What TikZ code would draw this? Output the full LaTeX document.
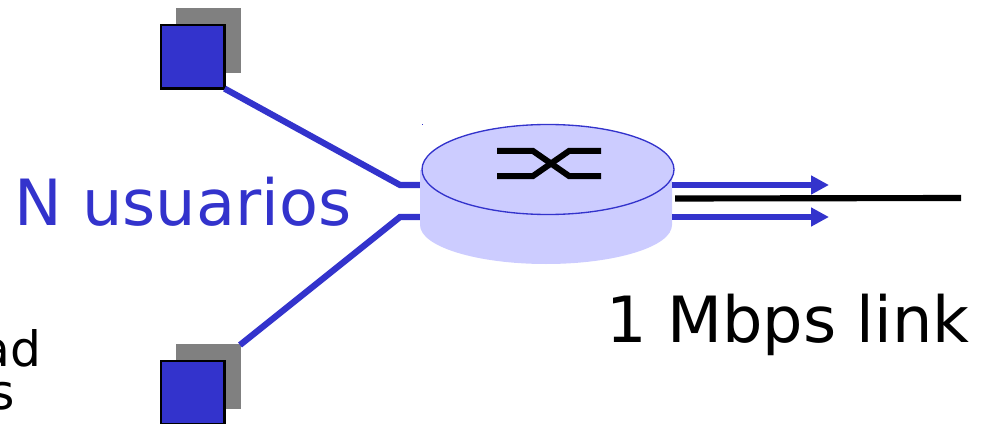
\documentclass[tikz,border=0pt]{standalone}
\usepackage{fontspec}
\setmainfont{DejaVu Sans}
\usetikzlibrary{arrows.meta,shapes.geometric}
\definecolor{ublue}{RGB}{51,51,204}
\definecolor{rlav}{RGB}{204,204,255}
\definecolor{ugray}{RGB}{128,128,128}
\tikzset{
  backsq/.style={fill=ugray,draw=none,minimum size=49pt,inner sep=0pt,outer sep=0pt,anchor=north west},
  frontsq/.style={fill=ublue,draw=black,line width=1.9pt,minimum width=47.7pt,minimum height=47.7pt,inner sep=0pt,outer sep=0pt,anchor=north west},
  wire/.style={draw=ublue,line width=4.7pt,line join=miter},
  flow/.style={draw=ublue,line width=4.7pt,-{Triangle[length=13.5pt,width=13.5pt]}},
  lbl/.style={inner sep=0pt,outer sep=0pt,anchor=base},
  cross/.style={draw=black,line width=4.5pt,line join=miter}
}
\begin{document}
\begin{tikzpicture}[x=0.75pt,y=-0.75pt]
\useasboundingbox (0,0) rectangle (984,424);
\clip (0,0) rectangle (984,424);
% users
\node[backsq] (g1) at (176,8) {};
\node[frontsq] (u1) at (161,25) {};
\node[backsq] (g2) at (176,344) {};
\node[frontsq] (u2) at (161,361) {};
% router
\coordinate (rl1) at (421,185);
\coordinate (rl2) at (421,217);
\coordinate (j1) at (400,185);
\coordinate (j2) at (400,217);
\coordinate (w2) at (240,345);
\draw[wire] (u1.south east) -- (j1) -- (rl1);
\draw[wire] (w2) -- (j2) -- (rl2);
\fill[rlav] (420,170) -- (420,225) arc[start angle=180,end angle=360,x radius=126,y radius=-39] -- (672,170) -- cycle;
\node[draw=ublue,fill=rlav,ellipse,line width=1pt,minimum width=189pt,minimum height=67.5pt,inner sep=0pt] (r) at (548,169.5) {};
\draw[cross] (497,151) -- (533,151) -- (569,176) -- (601,176);
\draw[cross] (497,176) -- (533,176) -- (569,151) -- (601,151);
\fill[ublue] (422,124) rectangle (423,125);
% output
\coordinate (a1s) at (672,185);
\coordinate (a1e) at (829,185);
\coordinate (a2s) at (672,217);
\coordinate (a2e) at (829,217);
\draw[flow] (a1s) -- (a1e);
\draw[flow] (a2s) -- (a2e);
\coordinate (ls) at (675,198.5);
\coordinate (le) at (961,198);
\draw[draw=black,line width=4.6pt] (ls) -- (le);
% labels
\node[lbl,text=ublue,font=\fontsize{47.8}{47.8}\selectfont] (nu) at (183,225) {N usuarios};
\node[lbl,text=black,font=\fontsize{47.8}{47.8}\selectfont] (mb) at (788,342) {1 Mbps link};
\node[inner sep=0pt,outer sep=0pt,anchor=base east,font=\fontsize{36.5}{36.5}\selectfont] (t1) at (41,366.5) {ad};
\node[inner sep=0pt,outer sep=0pt,anchor=base east,font=\fontsize{36.5}{36.5}\selectfont] (t2) at (15,409.5) {s};
\end{tikzpicture}
\end{document}
